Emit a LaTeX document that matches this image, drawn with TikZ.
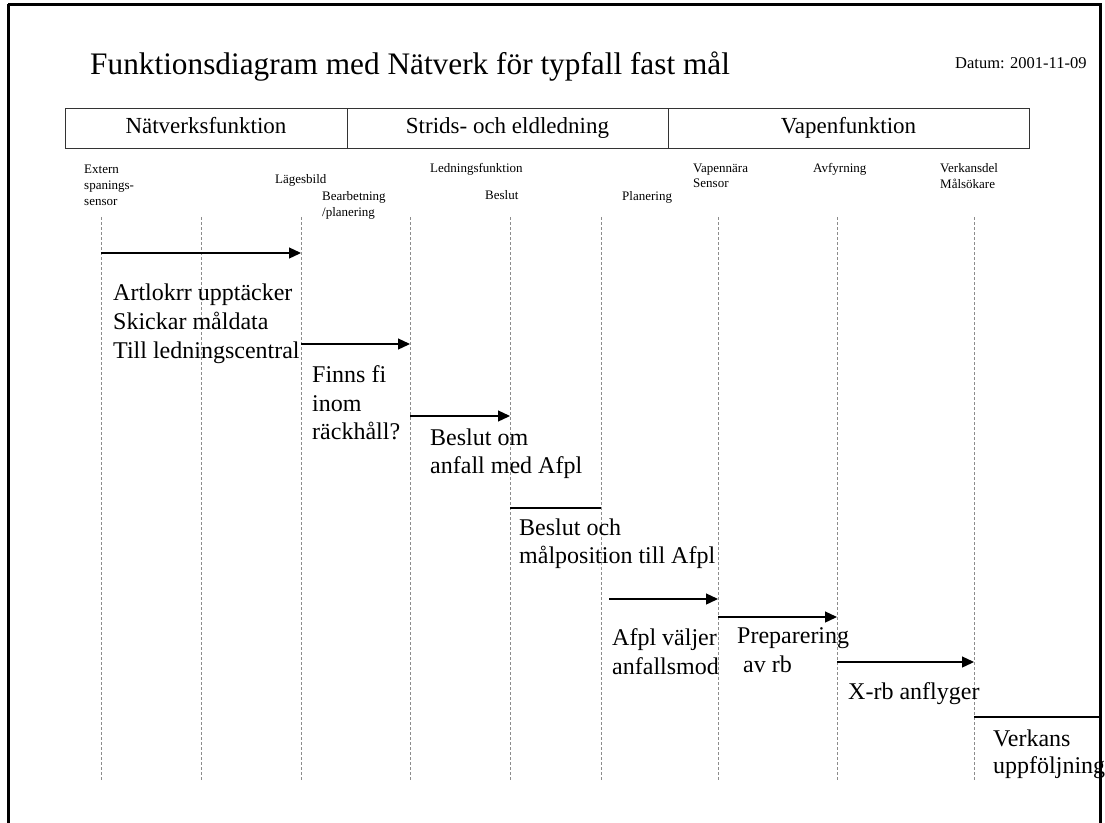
\documentclass[tikz,border=0pt]{standalone}
\usepackage{fontspec}
\setmainfont{Liberation Serif}
\usetikzlibrary{arrows.meta}

\begin{document}
\begin{tikzpicture}[x=1pt,y=-1pt,
  frame/.style={line width=3pt,black},
  headcell/.style={draw=black!80,line width=0.9pt,minimum height=40pt,inner sep=0pt,
    text height=16pt,text depth=5pt,font=\fontsize{23}{27}\selectfont},
  lifeline/.style={draw=black!45,line width=0.8pt,dash pattern=on 3pt off 2pt},
  msg/.style={draw=black,line width=1.3pt,-{Triangle[length=12pt,width=11pt]}},
  plainmsg/.style={draw=black,line width=1.3pt},
  lbl/.style={anchor=base west,inner sep=0pt,font=\fontsize{13}{15}\selectfont},
  body/.style={anchor=base west,inner sep=0pt,font=\fontsize{24}{28}\selectfont},
]
\useasboundingbox (0,0) rectangle (1105,822);
\clip (0,0) rectangle (1105,822);

% outer page frame
\draw[frame] (8,4) -- (1100,4) -- (1100,830);
\draw[frame] (8,4) -- (8,830);

% title and date
\node[anchor=base west,inner sep=0pt,font=\fontsize{31.3}{36}\selectfont] (title) at (90,74)
  {Funktionsdiagram med Nätverk för typfall fast mål};
\node[anchor=base west,inner sep=0pt,font=\fontsize{16.5}{19}\selectfont] (datum) at (955,68)
  {Datum: 2001-11-09};

% header cells
\node[headcell,minimum width=282pt] (h1) at (206,128) {Nätverksfunktion};
\node[headcell,minimum width=321pt] (h2) at (507.5,128) {Strids- och eldledning};
\node[headcell,minimum width=361pt] (h3) at (848.5,128) {Vapenfunktion};

% lifelines
\foreach \n/\x in {1/101,2/201,3/301,4/410,5/510,6/601,7/718,8/837,9/974}{
  \coordinate (t\n) at (\x,217);
  \coordinate (b\n) at (\x,780);
  \draw[lifeline] (t\n) -- (b\n);
}

% lifeline labels
\node[lbl] (ext1) at (84,173) {Extern};
\node[lbl] (ext2) at (84,189) {spanings-};
\node[lbl] (ext3) at (84,205) {sensor};
\node[lbl] (lage) at (275,183) {Lägesbild};
\node[lbl] (bea1) at (322,200) {Bearbetning};
\node[lbl] (bea2) at (322,216) {/planering};
\node[lbl] (led) at (430,172) {Ledningsfunktion};
\node[lbl] (bes) at (485,199) {Beslut};
\node[lbl] (pla) at (622,200) {Planering};
\node[lbl] (vap1) at (693,172) {Vapennära};
\node[lbl] (vap2) at (693,187) {Sensor};
\node[lbl] (avf) at (813,172) {Avfyrning};
\node[lbl] (ver1) at (940,172) {Verkansdel};
\node[lbl] (ver2) at (940,188) {Målsökare};

% message end points on the lifelines
\coordinate (m1s) at (101,253);  \coordinate (m1e) at (301,253);
\coordinate (m2s) at (301,344);  \coordinate (m2e) at (410,344);
\coordinate (m3s) at (410,416);  \coordinate (m3e) at (510,416);
\coordinate (m4s) at (510,508);  \coordinate (m4e) at (601,508);
\coordinate (m5s) at (609,599);  \coordinate (m5e) at (718,599);
\coordinate (m6s) at (718,617);  \coordinate (m6e) at (837,617);
\coordinate (m7s) at (837,662);  \coordinate (m7e) at (974,662);
\coordinate (m8s) at (974,717);  \coordinate (m8e) at (1100,717);

\draw[msg] (m1s) -- (m1e);
\draw[msg] (m2s) -- (m2e);
\draw[msg] (m3s) -- (m3e);
\draw[plainmsg] (m4s) -- (m4e);
\draw[msg] (m5s) -- (m5e);
\draw[msg] (m6s) -- (m6e);
\draw[msg] (m7s) -- (m7e);
\draw[plainmsg] (m8s) -- (m8e);

% step descriptions
\node[body] (s1a) at (113,300) {Artlokrr upptäcker};
\node[body] (s1b) at (113,329) {Skickar måldata};
\node[body] (s1c) at (113,358) {Till ledningscentral};
\node[body] (s2a) at (312,382) {Finns fi};
\node[body] (s2b) at (312,411) {inom};
\node[body] (s2c) at (312,439) {räckhåll?};
\node[body] (s3a) at (430,445) {Beslut om};
\node[body] (s3b) at (430,473) {anfall med Afpl};
\node[body] (s4a) at (519,535) {Beslut och};
\node[body] (s4b) at (519,563) {målposition till Afpl};
\node[body] (s5a) at (612,645) {Afpl väljer};
\node[body] (s5b) at (612,674) {anfallsmod};
\node[body] (s6a) at (737,643) {Preparering};
\node[body] (s6b) at (743,672) {av rb};
\node[body] (s7) at (848,699) {X-rb anflyger};
\node[body] (s8a) at (993,746) {Verkans};
\node[body] (s8b) at (993,773) {uppföljning};

% right frame edge drawn over the overflowing text
\draw[frame] (1100,4) -- (1100,830);
\end{tikzpicture}
\end{document}
